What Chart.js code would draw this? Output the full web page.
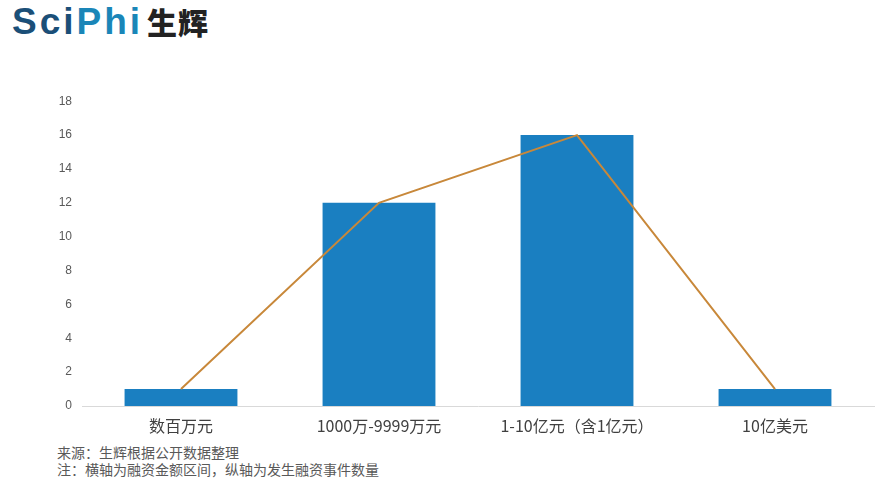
<!DOCTYPE html>
<html>
<head>
<meta charset="utf-8">
<script src="https://cdn.jsdelivr.net/npm/chart.js@4/dist/chart.umd.min.js"></script>
<style>
  body { margin: 0; width: 886px; height: 487px; background: #fff; position: relative; overflow: hidden; font-family: "Noto Sans CJK SC", "Noto Sans", sans-serif; }
  .logo { position: absolute; left: 12px; top: -1px; font-family: "Liberation Sans", Arial, sans-serif; font-weight: bold; font-size: 37px; letter-spacing: 3px; }
  .logo .s1 { color: #1b4f78; }
  .logo .s2 { color: #1a86b8; }
  .logo .cn { color: #222; font-family: "Noto Sans CJK SC", sans-serif; font-size: 30px; margin-left: 4px; font-weight: 900; letter-spacing: 1px; }
  .wrap { position: absolute; left: 0; top: 84px; width: 886px; height: 352px; }
  .note { position: absolute; left: 57px; font-size: 14px; color: #595959; line-height: 17px; }
</style>
</head>
<body>
<div class="logo"><span class="s1">Sci</span><span class="s2">Phi</span><span class="cn">生辉</span></div>
<div class="wrap"><canvas id="c"></canvas></div>
<div class="note" style="top:444px">来源：生辉根据公开数据整理<br>注：横轴为融资金额区间，纵轴为发生融资事件数量</div>
<script>
// categories and values
const categories = ["数百万元", "1000万-9999万元", "1-10亿元（含1亿元）", "10亿美元"];
const counts = [1, 12, 16, 1];
const yTicks = [0, 2, 4, 6, 8, 10, 12, 14, 16, 18];

new Chart(document.getElementById("c"), {
  data: {
    labels: categories,
    datasets: [
      {
        type: "line",
        data: counts,
        borderColor: "#c8883a",
        borderWidth: 2,
        pointRadius: 0,
        tension: 0,
        order: 0
      },
      {
        type: "bar",
        data: counts,
        backgroundColor: "#1a7fc1",
        categoryPercentage: 1,
        barPercentage: 0.57,
        order: 1
      }
    ]
  },
  options: {
    responsive: true,
    maintainAspectRatio: false,
    animation: false,
    layout: { padding: { top: 6, right: 12, left: 0, bottom: 0 } },
    plugins: { legend: { display: false }, tooltip: { enabled: false } },
    scales: {
      x: {
        grid: { display: false },
        border: { color: "#d9d9d9", width: 1 },
        ticks: { color: "#404040", font: { size: 16, family: "'Noto Sans CJK SC', sans-serif" }, padding: 2, maxRotation: 0 },
        afterFit: s => { s.height = 30; }
      },
      y: {
        min: 0,
        max: 18,
        afterBuildTicks: s => { s.ticks = yTicks.map(v => ({ value: v })); },
        grid: { display: false, drawTicks: false },
        border: { display: false },
        ticks: { color: "#595959", font: { size: 12, family: "'Liberation Sans', Arial, sans-serif" }, padding: 10 },
        afterFit: s => { s.width = 82; }
      }
    }
  }
});
</script>
</body>
</html>
